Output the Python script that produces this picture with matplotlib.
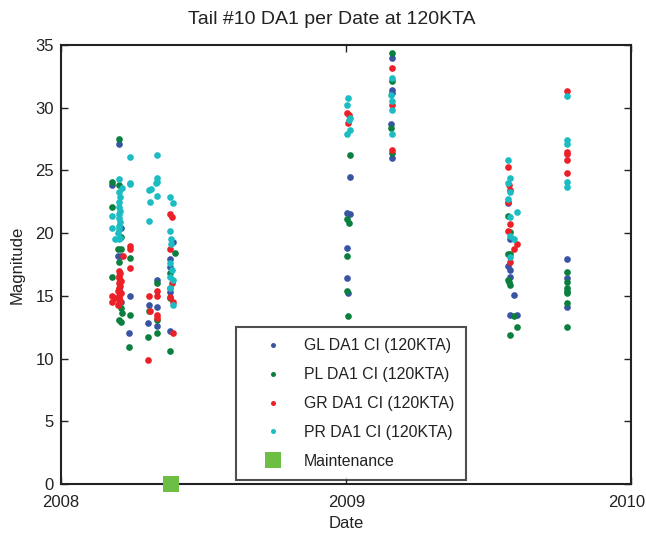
import matplotlib
matplotlib.use("Agg")
import matplotlib.pyplot as plt
import matplotlib.transforms as mtransforms
import numpy as np
from datetime import datetime

plt.rcParams['font.family'] = ['Liberation Sans', 'DejaVu Sans']

title = "Tail #10 DA1 per Date at 120KTA"
xlabel = "Date"
ylabel = "Magnitude"
labels = ["GL DA1 CI (120KTA)", "PL DA1 CI (120KTA)", "GR DA1 CI (120KTA)", "PR DA1 CI (120KTA)"]
maint_label = "Maintenance"
xticks = ["2008-01-01", "2009-01-01", "2010-01-01"]
xtick_labels = ["2008", "2009", "2010"]
yticks = [0, 5, 10, 15, 20, 25, 30, 35]

gl_dates = ["2008-03-16", "2008-03-06", "2008-03-18", "2008-03-14", "2008-03-18", "2008-03-30", "2008-03-18", "2008-03-28", "2008-03-16",
            "2008-05-03", "2008-04-23", "2008-05-03", "2008-04-22", "2008-05-03",
            "2008-05-23", "2008-05-20", "2008-05-20", "2008-05-20", "2008-05-20",
            "2009-01-05", "2009-01-02", "2009-01-05", "2009-01-02", "2009-01-02", "2009-01-03",
            "2009-02-28", "2009-02-28", "2009-02-28", "2009-02-27", "2009-02-28",
            "2009-07-27", "2009-07-30", "2009-07-27", "2009-07-30", "2009-07-30", "2009-08-04", "2009-07-30", "2009-08-08",
            "2009-10-11", "2009-10-11", "2009-10-11"]
gl_vals = [27.1, 23.8, 20.4, 18.2, 18.2, 15.0, 14.5, 12.0, 15.5,
           16.3, 14.3, 14.1, 12.8, 12.6,
           19.3, 17.9, 17.3, 15.3, 12.2,
           24.5, 21.6, 21.5, 18.8, 16.4, 15.2,
           34.0, 31.4, 31.2, 28.7, 26.0,
           22.4, 19.5, 17.4, 17.1, 16.5, 15.1, 13.5, 13.5,
           17.9, 16.4, 14.1]

pl_dates = ["2008-03-16", "2008-03-06", "2008-03-16", "2008-03-06", "2008-03-18", "2008-03-14", "2008-03-18", "2008-03-30", "2008-03-15",
            "2008-03-18", "2008-03-19", "2008-03-16", "2008-03-18", "2008-03-30", "2008-03-28", "2008-03-07",
            "2008-05-03", "2008-04-23", "2008-05-03", "2008-04-22", "2008-05-03",
            "2008-05-26", "2008-05-20", "2008-05-20", "2008-05-20",
            "2009-01-05", "2009-01-02", "2009-01-04", "2009-01-02", "2009-01-02", "2009-01-03",
            "2009-02-28", "2009-02-28", "2009-02-27", "2009-02-28",
            "2009-07-27", "2009-07-30", "2009-07-27", "2009-07-30", "2009-07-27", "2009-07-28", "2009-07-30", "2009-08-04", "2009-08-08", "2009-07-30",
            "2009-10-11", "2009-10-11", "2009-10-11", "2009-10-11", "2009-10-11", "2009-10-11", "2009-10-11"]
pl_vals = [27.5, 24.1, 23.8, 22.1, 19.7, 18.7, 18.7, 18.0, 17.7,
           14.0, 13.6, 13.1, 12.9, 13.5, 10.9, 16.5,
           16.0, 13.8, 13.1, 11.7, 12.0,
           18.4, 16.8, 14.8, 10.6,
           26.2, 21.1, 20.8, 18.2, 15.4, 13.4,
           34.4, 32.1, 28.4, 26.4,
           21.4, 20.1, 18.3, 18.3, 16.3, 16.1, 15.9, 13.4, 12.5, 11.9,
           16.9, 16.1, 15.6, 15.4, 15.2, 14.4, 12.5]

gr_dates = ["2008-03-30", "2008-03-29", "2008-03-21", "2008-03-30",
            "2008-03-16", "2008-03-17", "2008-03-15", "2008-03-16", "2008-03-18", "2008-03-15", "2008-03-17", "2008-03-16",
            "2008-03-14", "2008-03-18", "2008-03-16", "2008-03-15", "2008-03-17", "2008-03-16", "2008-03-14",
            "2008-03-06", "2008-03-06", "2008-03-10",
            "2008-05-03", "2008-05-03", "2008-04-23", "2008-04-24", "2008-05-03", "2008-05-03", "2008-04-22",
            "2008-05-20", "2008-05-22", "2008-05-20", "2008-05-22", "2008-05-20", "2008-05-20", "2008-05-23", "2008-05-23",
            "2009-01-02", "2009-01-04", "2009-01-03",
            "2009-02-28", "2009-02-28", "2009-02-28",
            "2009-07-27", "2009-07-28", "2009-07-30", "2009-07-27", "2009-07-30", "2009-07-27", "2009-08-08", "2009-08-04", "2009-07-30",
            "2009-10-11", "2009-10-11", "2009-10-11", "2009-10-11", "2009-10-11"]
gr_vals = [19.0, 18.7, 18.2, 17.2,
           17.0, 16.8, 16.6, 16.4, 16.2, 16.0, 15.8, 15.6,
           15.4, 15.2, 15.0, 14.8, 14.6, 14.4, 14.3,
           15.0, 14.5, 14.8,
           15.4, 15.0, 15.0, 13.8, 13.5, 13.2, 9.9,
           21.5, 21.3, 18.7, 16.0, 15.6, 14.9, 14.5, 12.0,
           29.6, 29.4, 28.8,
           33.2, 30.2, 26.6,
           25.3, 23.8, 23.4, 22.5, 20.7, 20.2, 19.1, 18.7, 17.7,
           31.3, 26.5, 26.3, 25.8, 24.8]

pr_dates = ["2008-03-30", "2008-03-16", "2008-03-30", "2008-03-29", "2008-03-19", "2008-03-16",
            "2008-03-17", "2008-03-15", "2008-03-16", "2008-03-17", "2008-03-15", "2008-03-16", "2008-03-17",
            "2008-03-15", "2008-03-16", "2008-03-14", "2008-03-17", "2008-03-16",
            "2008-03-06", "2008-03-07", "2008-03-10",
            "2008-05-03", "2008-05-03", "2008-05-03", "2008-05-02", "2008-04-23", "2008-04-25", "2008-05-03", "2008-04-24", "2008-04-23",
            "2008-05-20", "2008-05-23", "2008-05-20", "2008-05-21", "2008-05-21", "2008-05-20", "2008-05-22", "2008-05-20", "2008-05-23",
            "2008-05-20", "2008-05-23",
            "2009-01-03", "2009-01-02", "2009-01-05", "2009-01-04", "2009-01-05", "2009-01-02",
            "2009-02-28", "2009-02-27", "2009-02-28", "2009-02-28", "2009-02-28",
            "2009-07-27", "2009-07-30", "2009-07-27", "2009-07-30", "2009-07-27", "2009-08-08", "2009-07-30", "2009-07-30", "2009-08-04", "2009-07-30",
            "2009-10-11", "2009-10-11", "2009-10-11", "2009-10-11", "2009-10-11"]
pr_vals = [26.1, 24.3, 24.0, 23.9, 23.6, 23.3,
           22.9, 22.5, 22.1, 21.8, 21.5, 21.2, 20.9,
           20.6, 20.3, 20.0, 19.6, 19.5,
           21.4, 20.4, 19.5,
           26.2, 24.4, 24.1, 24.0, 23.4, 23.5, 23.0, 22.5, 21.0,
           22.9, 22.4, 20.2, 19.5, 19.1, 17.6, 17.1, 16.5, 16.3,
           15.6, 14.3,
           30.8, 30.2, 29.2, 29.0, 28.2, 27.9,
           32.4, 31.0, 30.5, 29.8, 27.9,
           25.8, 24.4, 24.0, 23.3, 22.7, 21.7, 21.3, 19.8, 19.5, 18.1,
           30.9, 27.4, 27.1, 24.1, 23.7]

maint_dates = ["2008-05-21"]
maint_vals = [0]

colors = ["#3A54A4", "#0B7F3E", "#EC2027", "#1CBCC3"]
maint_color = "#6CBE45"
ink = '#222222'

def d(lst):
    return [datetime.strptime(s, "%Y-%m-%d") for s in lst]

fig = plt.figure(figsize=(6.46, 5.36), dpi=100)
ax = fig.add_axes([61/646, 1-484/536, 570/646, 439/536])

series = [(gl_dates, gl_vals), (pl_dates, pl_vals), (gr_dates, gr_vals), (pr_dates, pr_vals)]
handles = []
for (ds, vs), c, lab in zip(series, colors, labels):
    h, = ax.plot(d(ds), vs, 'o', color=c, markersize=4.8, markeredgewidth=0, label=lab)
    handles.append(h)
hm, = ax.plot(d(maint_dates), maint_vals, 's', color=maint_color, markersize=11,
              markeredgewidth=0, clip_on=False, zorder=5, label=maint_label)
handles.append(hm)

ax.set_xlim(d(["2008-01-01"])[0], d(["2010-01-01"])[0])
ax.set_ylim(0, 35)
ax.set_xticks(d(xticks))
ax.set_xticklabels(xtick_labels)
ax.set_yticks(yticks)
ax.tick_params(direction='in', top=True, right=True, length=5, width=1, labelsize=12, colors=ink)
ax.tick_params(axis='x', pad=8)
ax.tick_params(axis='y', pad=5)
for sp in ax.spines.values():
    sp.set_linewidth(1.5)
    sp.set_color(ink)

# keep last x tick label inside the canvas
last = ax.get_xticklabels()[-1]
last.set_transform(last.get_transform() + mtransforms.ScaledTranslation(-4/100, 0, fig.dpi_scale_trans))

ax.set_title(title, fontsize=14, pad=15, color=ink, x=(332-61)/570)
ax.set_xlabel(xlabel, fontsize=12, labelpad=4, color=ink)
ax.set_ylabel(ylabel, fontsize=12, labelpad=8, color=ink)

leg = ax.legend(handles=handles, loc='lower left', bbox_to_anchor=(236/646, 1-480/536),
                bbox_transform=fig.transFigure, fontsize=11.4, frameon=True, fancybox=False,
                edgecolor=ink, handlelength=3.3, handletextpad=0.3, labelspacing=0.88,
                borderpad=0.7, borderaxespad=0)
leg.get_frame().set_linewidth(1.5)
for i, lh in enumerate(leg.legend_handles):
    if i < 4:
        lh.set_markersize(3.6)
    else:
        lh.set_markersize(11)
for t in leg.get_texts():
    t.set_color(ink)

fig.savefig("out.png", dpi=100)
